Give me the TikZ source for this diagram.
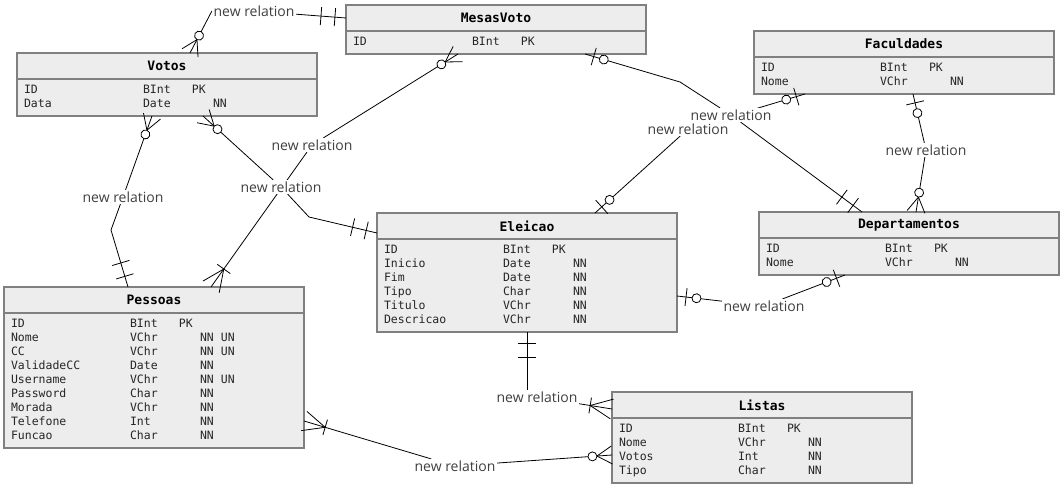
\documentclass[tikz,border=0pt]{standalone}
\usepackage{fontspec}
\usepackage{array}
\setmonofont{DejaVu Sans Mono}
\setsansfont{Open Sans}
\usetikzlibrary{positioning,decorations.markings}

\newcolumntype{F}{@{}p{119pt}@{}p{49pt}@{}p{21pt}@{}l@{}}
\newcommand{\nnun}{NN\hspace*{7pt}UN}

\pgfdeclarelayer{edges}
\pgfdeclarelayer{front}
\pgfsetlayers{main,edges,front}

\tikzset{
	tblhead/.style={draw=black!50, fill=black!7, line width=1.6pt, outer sep=0pt, inner sep=0pt,
		minimum width=300pt, minimum height=26pt, font=\ttfamily\bfseries\fontsize{13}{15}\selectfont},
	tblbody/.style={draw=black!50, fill=black!7, line width=1.6pt, outer sep=0pt, inner xsep=7pt,
		inner ysep=4.5pt, text width=286pt, align=left, text=black!85,
		font=\ttfamily\fontsize{11.5}{14}\selectfont},
	relname/.style={fill=white, inner sep=1.5pt, text=black!75, font=\sffamily\fontsize{14}{16}\selectfont},
	erd/.style={line width=0.8pt},
	zeroMany/.style={erd, postaction={decorate, decoration={markings, mark=at position 0.1pt with {
		\draw (0pt,-9pt) -- (15pt,0pt) -- (0pt,9pt);
		\draw[fill=white] (19.5pt,0pt) circle (4.5pt);}}}},
	oneMany/.style={erd, postaction={decorate, decoration={markings, mark=at position 0.1pt with {
		\draw (0pt,-10pt) -- (22pt,0pt) -- (0pt,10pt);
		\draw (22pt,-8pt) -- (22pt,8pt);}}}},
	oneOne/.style={erd, postaction={decorate, decoration={markings, mark=at position 0.1pt with {
		\draw (11pt,-9pt) -- (11pt,9pt) (25pt,-9pt) -- (25pt,9pt);}}}},
	zeroOne/.style={erd, postaction={decorate, decoration={markings, mark=at position 0.1pt with {
		\draw (9pt,-9pt) -- (9pt,9pt);
		\draw[fill=white] (19.5pt,0pt) circle (4.5pt);}}}},
}

\begin{document}
\begin{tikzpicture}[x=1pt, y=-1pt]
	\useasboundingbox (0,0) rectangle (1064,489);

	\node[tblhead, anchor=north west] (mesas) at (346,5) {MesasVoto};
	\node[tblbody, below=0pt of mesas] (mesasF) {\begin{tabular}{F}
		ID & BInt & PK & \end{tabular}};

	\node[tblhead, anchor=north west] (votos) at (17,53) {Votos};
	\node[tblbody, below=0pt of votos] (votosF) {\begin{tabular}{F}
		ID & BInt & PK & \\
		Data & Date & & NN \end{tabular}};

	\node[tblhead, anchor=north west] (facul) at (754,31) {Faculdades};
	\node[tblbody, below=0pt of facul] (faculF) {\begin{tabular}{F}
		ID & BInt & PK & \\
		Nome & VChr & & NN \end{tabular}};

	\node[tblhead, anchor=north west] (deps) at (759,212) {Departamentos};
	\node[tblbody, below=0pt of deps] (depsF) {\begin{tabular}{F}
		ID & BInt & PK & \\
		Nome & VChr & & NN \end{tabular}};

	\node[tblhead, anchor=north west] (eleicao) at (377,213) {Eleicao};
	\node[tblbody, below=0pt of eleicao] (eleicaoF) {\begin{tabular}{F}
		ID & BInt & PK & \\
		Inicio & Date & & NN \\
		Fim & Date & & NN \\
		Tipo & Char & & NN \\
		Titulo & VChr & & NN \\
		Descricao & VChr & & NN \end{tabular}};

	\node[tblhead, anchor=north west] (pessoas) at (4,287) {Pessoas};
	\node[tblbody, below=0pt of pessoas] (pessoasF) {\begin{tabular}{F}
		ID & BInt & PK & \\
		Nome & VChr & & \nnun \\
		CC & VChr & & \nnun \\
		ValidadeCC & Date & & NN \\
		Username & VChr & & \nnun \\
		Password & Char & & NN \\
		Morada & VChr & & NN \\
		Telefone & Int & & NN \\
		Funcao & Char & & NN \end{tabular}};

	\node[tblhead, anchor=north west] (listas) at (612,392) {Listas};
	\node[tblbody, below=0pt of listas] (listasF) {\begin{tabular}{F}
		ID & BInt & PK & \\
		Nome & VChr & & NN \\
		Votos & Int & & NN \\
		Tipo & Char & & NN \end{tabular}};

	\begin{pgfonlayer}{front}
		\node[relname] (lMV) at (254,11) {new relation};
		\node[relname] (lVP) at (123,197) {new relation};
		\node[relname] (lMP) at (312,145) {new relation};
		\node[relname] (lVE) at (281,187) {new relation};
		\node[relname] (lMD) at (731,115) {new relation};
		\node[relname] (lFE) at (688,129) {new relation};
		\node[relname] (lFD) at (926,150) {new relation};
		\node[relname] (lDE) at (764,306) {new relation};
		\node[relname] (lEL) at (537,397) {new relation};
		\node[relname] (lPL) at (455,466) {new relation};
	\end{pgfonlayer}

	\begin{pgfonlayer}{edges}
		\draw[zeroMany] ([xshift=173]votos.north west) -- (lMV.west);
		\draw[oneOne] (mesas.west) -- (lMV);
		\draw[zeroMany] ([xshift=135]votosF.south west) -- (lVP);
		\draw[oneOne] ([xshift=124]pessoas.north west) -- (111,230) -- (lVP);
		\draw[zeroMany] ([xshift=112]mesasF.south west) -- (lMP);
		\draw[oneMany] ([xshift=207]pessoas.north west) -- (lMP);
		\draw[zeroMany] ([xshift=186]votosF.south west) -- (lVE);
		\draw[oneOne] ([yshift=-20]eleicao.north west) -- (309,217) -- (lVE);
		\draw[zeroOne] ([xshift=239]mesasF.south west) -- (680,82) -- (lMD);
		\draw[oneOne] ([xshift=103]deps.north west) -- (lMD);
		\draw[zeroOne] ([xshift=51]faculF.south west) -- (lFE);
		\draw[zeroOne] ([xshift=218]eleicao.north west) -- (lFE);
		\draw[zeroOne] ([xshift=159]faculF.south west) -- (lFD);
		\draw[zeroMany] ([xshift=157]deps.north west) -- (lFD);
		\draw[zeroOne] ([xshift=86]depsF.south west) -- (lDE);
		\draw[zeroOne] ([yshift=-57]eleicaoF.north east) -- (lDE);
		\draw[oneOne] (eleicaoF.south) -- (eleicaoF.south |- lEL.north);
		\draw[oneMany] ([yshift=-17]listas.north west) -- (lEL);
		\draw[oneMany] ([yshift=-108]pessoasF.north east) -- (lPL);
		\draw[zeroMany] ([yshift=-37]listasF.north west) -- (lPL);
	\end{pgfonlayer}
\end{tikzpicture}
\end{document}
